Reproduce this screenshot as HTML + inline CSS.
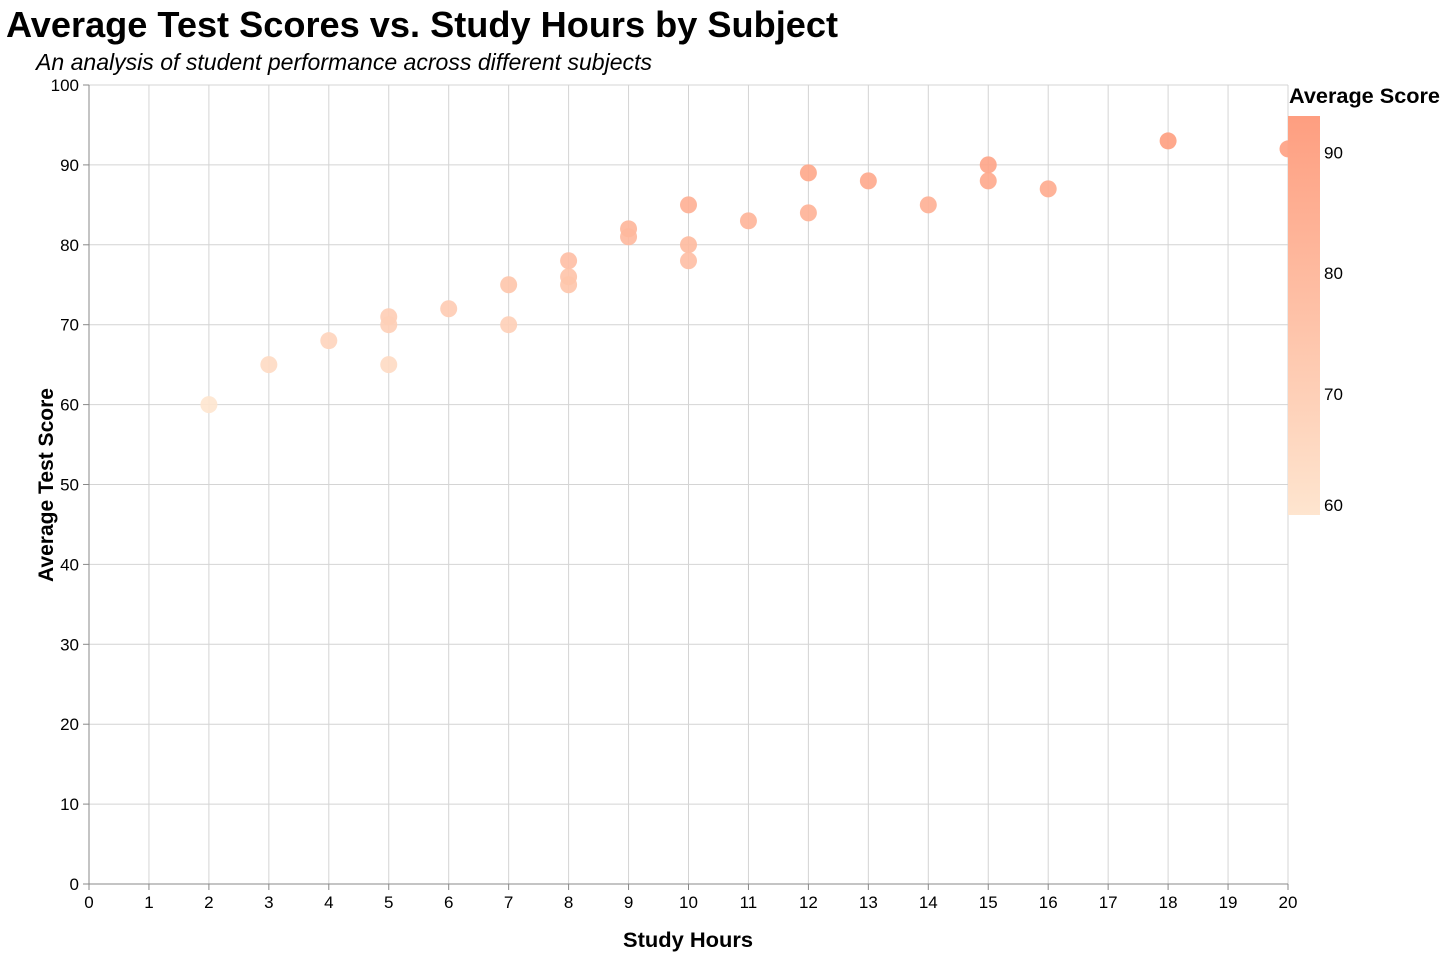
<!DOCTYPE html>
<html><head><meta charset="utf-8"><style>
body{margin:0;background:#fff;font-family:"Liberation Sans",Arial,sans-serif}
</style></head><body>
<svg id="chart" width="1452" height="958" xmlns="http://www.w3.org/2000/svg">
<defs><linearGradient id="lg" x1="0" y1="1" x2="0" y2="0">
<stop offset="0" stop-color="#fee5cf"/><stop offset="1" stop-color="#fe9e80"/></linearGradient></defs>
<text x="6" y="37" font-size="36" font-weight="bold" fill="#000" textLength="832" lengthAdjust="spacingAndGlyphs">Average Test Scores vs. Study Hours by Subject</text>
<text x="36" y="70" font-size="23" font-style="italic" fill="#000" textLength="616" lengthAdjust="spacingAndGlyphs">An analysis of student performance across different subjects</text>
<g id="grid"></g><g id="axes"></g><g id="pts"></g>
<text x="688" y="947" font-size="21" font-weight="bold" text-anchor="middle" textLength="130" lengthAdjust="spacingAndGlyphs">Study Hours</text>
<text transform="translate(53,485) rotate(-90)" font-size="21" font-weight="bold" text-anchor="middle" textLength="194" lengthAdjust="spacingAndGlyphs">Average Test Score</text>
<g>
<text x="1289" y="103" font-size="21" font-weight="bold" textLength="151" lengthAdjust="spacingAndGlyphs">Average Score</text>
<rect x="1288" y="116" width="32" height="399" fill="url(#lg)"/>
<g id="leg"></g></g>
</svg>
<script>
const hours=[2,3,4,5,5,5,6,7,7,8,8,8,9,9,10,10,10,11,12,12,13,14,15,15,16,18,20];
const scores=[60,65,68,71,70,65,72,75,70,78,76,75,82,81,85,80,78,83,89,84,88,85,90,88,87,93,92];
const xTicks=[0,1,2,3,4,5,6,7,8,9,10,11,12,13,14,15,16,17,18,19,20];
const yTicks=[0,10,20,30,40,50,60,70,80,90,100];
const legendTicks=[60,70,80,90];
const NS="http://www.w3.org/2000/svg";
const X=v=>89+v*59.95, Y=v=>884-v*7.99;
const cMin=60,cMax=93;
const L=v=>515-(v-cMin)/(cMax-cMin)*399;
function col(v){const t=Math.max(0,Math.min(1,(v-cMin)/(cMax-cMin)));
 const a=[254,229,207],b=[254,158,128];return `rgb(${a.map((c,i)=>Math.round(c+(b[i]-c)*t)).join(',')})`;}
function mk(tag,attrs,parent,txt){const e=document.createElementNS(NS,tag);for(const k in attrs)e.setAttribute(k,attrs[k]);if(txt!==undefined)e.textContent=txt;document.getElementById(parent).appendChild(e);return e;}
xTicks.forEach(t=>{const l=mk('line',{x1:X(t),x2:X(t),y1:85,y2:884,stroke:'#d4d4d4'},'grid');

const k=mk('line',{x1:X(t),x2:X(t),y1:884,y2:890,stroke:'#888'},'axes');

const s=mk('text',{x:X(t),y:908,'font-size':17,'text-anchor':'middle'},'axes',t);
});
yTicks.forEach(t=>{const l=mk('line',{x1:89,x2:1288,y1:Y(t),y2:Y(t),stroke:'#d4d4d4'},'grid');

const k=mk('line',{x1:83,x2:89,y1:Y(t),y2:Y(t),stroke:'#888'},'axes');

const s=mk('text',{x:79,y:Y(t)+6,'font-size':17,'text-anchor':'end'},'axes',t);
});
const ax=mk('line',{x1:89,x2:1288,y1:884,y2:884,stroke:'#888'},'axes');

const ay=mk('line',{x1:89,x2:89,y1:85,y2:884,stroke:'#888'},'axes');

hours.forEach((h,i)=>{const c=mk('circle',{cx:X(h),cy:Y(scores[i]),r:8.5,fill:col(scores[i]),'fill-opacity':0.9},'pts');
});
legendTicks.forEach(t=>{const y=t===cMin?L(t)-4:L(t)+6;
const s=mk('text',{x:1324,y:y,'font-size':17},'leg',t);
});
</script>
</body></html>
